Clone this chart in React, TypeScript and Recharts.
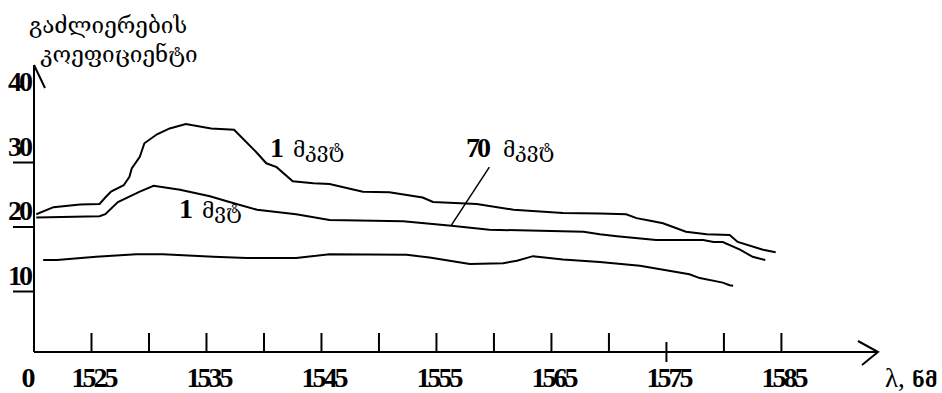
import React from 'react';
import { LineChart, Line, XAxis, YAxis, ReferenceLine } from 'recharts';

// ---- data ----
const wavelengthTicks = [1520, 1525, 1530, 1535, 1540, 1545, 1550, 1555, 1560, 1565, 1570, 1575, 1580, 1585];
const gainTicks = [10, 20, 30, 40];
const originLabel = '0';
const xAxisSymbol = 'λ,';
const xAxisUnit = 'ნმ';
const yTitleLines = ['გაძლიერების', 'კოეფიციენტი'];

// upper curve (1 mW label)
const wlA = [1520.2, 1521.7, 1524.0, 1525.7, 1526.2, 1526.7, 1527.8, 1528.3, 1528.5, 1529.2, 1529.6, 1530.7, 1531.8, 1533.2, 1535.4, 1537.4, 1539.4, 1540.2, 1541.1, 1542.5, 1544.3, 1545.7, 1548.6, 1550.9, 1553.8, 1554.7, 1558.5, 1561.7, 1566.0, 1569.2, 1571.5, 1572.4, 1573.6, 1574.7, 1576.7, 1578.5, 1580.5, 1581.2, 1583.4, 1584.5];
const gainA = [19.5, 20.6, 21.0, 21.1, 22.1, 23.0, 24.0, 25.3, 26.6, 28.4, 30.5, 31.9, 32.8, 33.5, 32.8, 32.6, 29.0, 27.4, 26.8, 24.6, 24.3, 24.2, 23.0, 22.9, 22.1, 21.4, 21.1, 20.2, 19.7, 19.6, 19.5, 18.9, 18.5, 18.1, 16.8, 16.4, 16.3, 15.2, 14.0, 13.6];

// middle curve (70 mW label)
const wlB = [1520.2, 1525.7, 1526.2, 1527.3, 1529.2, 1530.4, 1532.7, 1535.3, 1537.0, 1539.4, 1542.8, 1545.7, 1552.1, 1556.3, 1559.6, 1567.8, 1569.2, 1570.7, 1574.1, 1578.2, 1579.1, 1579.9, 1581.4, 1582.5, 1583.6];
const gainB = [19.0, 19.2, 19.5, 21.4, 23.0, 23.9, 23.3, 22.3, 21.4, 20.2, 19.5, 18.6, 18.4, 17.7, 17.1, 16.8, 16.4, 16.1, 15.5, 15.5, 15.2, 15.2, 14.0, 12.9, 12.4];

// lower curve
const wlC = [1520.8, 1522.0, 1525.4, 1528.9, 1531.2, 1535.6, 1538.5, 1542.8, 1545.7, 1552.4, 1554.4, 1557.9, 1560.8, 1562.0, 1563.4, 1566.0, 1569.2, 1572.7, 1577.0, 1577.9, 1579.9, 1580.5, 1580.8];
const gainC = [12.4, 12.4, 12.9, 13.3, 13.3, 12.9, 12.7, 12.7, 13.3, 13.2, 12.8, 11.8, 11.9, 12.3, 13.0, 12.5, 12.1, 11.5, 10.2, 9.6, 8.9, 8.5, 8.4];

const seriesPower = ['1', '70', '1'];
const seriesUnit = ['მკვტ', 'მკვტ', 'მვტ'];

// leader line for the 70 mW label
const leaderWl = [1559.6, 1556.3];
const leaderGain = [26.8, 17.8];

const toRows = (wl: number[], g: number[]) => wl.map((w, i) => ({ wl: w, gain: g[i] }));
const rowsA = toRows(wlA, gainA);
const rowsB = toRows(wlB, gainB);
const rowsC = toRows(wlC, gainC);

// ---- style ----
const NUM_FONT = "'Liberation Serif', 'Times New Roman', serif";
const GEO_FONT = "'DejaVu Serif', 'DejaVu Sans', serif";
const AXIS_Y = 352;
const NUM_SIZE = 28;
const NUM_SPACING = -3;

const XTick = (props: any) => {
  const { x, payload } = props;
  const v = payload.value as number;
  if (v === 1520) {
    return (
      <text x={x - 7} y={387} textAnchor="middle" fontFamily={NUM_FONT} fontWeight="bold" fontSize={NUM_SIZE} letterSpacing={NUM_SPACING} fill="#000">
        {originLabel}
      </text>
    );
  }
  const tall = v === 1575;
  const showLabel = (v - 1525) % 10 === 0;
  return (
    <g>
      <line x1={x} x2={x} y1={tall ? AXIS_Y - 10 : AXIS_Y - 19} y2={tall ? AXIS_Y + 10 : AXIS_Y} stroke="#000" strokeWidth={2} />
      {showLabel && (
        <text x={x + 2} y={387} textAnchor="middle" fontFamily={NUM_FONT} fontWeight="bold" fontSize={NUM_SIZE} letterSpacing={NUM_SPACING} fill="#000">
          {String(v)}
        </text>
      )}
    </g>
  );
};

const YTick = (props: any) => {
  const { y, payload } = props;
  const v = payload.value as number;
  return (
    <g>
      {v !== 40 && <line x1={13} x2={34} y1={y + 16} y2={y + 16} stroke="#000" strokeWidth={2} />}
      <text x={19} y={y + 9} textAnchor="middle" fontFamily={NUM_FONT} fontWeight="bold" fontSize={NUM_SIZE} letterSpacing={NUM_SPACING} fill="#000">
        {String(v)}
      </text>
    </g>
  );
};

const SeriesLabel = ({ x, y, num, unit, ux }: { x: number; y: number; num: string; unit: string; ux: number }) => (
  <g>
    <text x={x} y={y} fontFamily={NUM_FONT} fontWeight="bold" fontSize={NUM_SIZE} letterSpacing={NUM_SPACING} fill="#000">{num}</text>
    <text x={ux} y={y} fontFamily={GEO_FONT} fontSize={21} fill="#000">{unit}</text>
  </g>
);

export default function App() {
  return (
    <div style={{ position: 'absolute', left: 0, top: 0, width: 942, height: 393, background: '#fff' }}>
      <LineChart width={942} height={393} margin={{ top: 65, right: 64, bottom: 40, left: 33 }}>
        <XAxis
          type="number"
          dataKey="wl"
          domain={[1520, 1593.4]}
          ticks={wavelengthTicks}
          interval={0}
          allowDataOverflow
          height={1}
          tickLine={false}
          axisLine={{ stroke: '#000', strokeWidth: 2 }}
          tick={(p: any) => <XTick {...p} />}
        />
        <YAxis
          type="number"
          dataKey="gain"
          domain={[-1.86, 42.64]}
          ticks={gainTicks}
          interval={0}
          allowDataOverflow
          width={1}
          tickLine={false}
          axisLine={{ stroke: '#000', strokeWidth: 2 }}
          tick={(p: any) => <YTick {...p} />}
        />
        <Line data={rowsA} dataKey="gain" type="linear" stroke="#000" strokeWidth={2} dot={false} isAnimationActive={false} />
        <Line data={rowsB} dataKey="gain" type="linear" stroke="#000" strokeWidth={2} dot={false} isAnimationActive={false} />
        <Line data={rowsC} dataKey="gain" type="linear" stroke="#000" strokeWidth={2} dot={false} isAnimationActive={false} />
        <ReferenceLine
          segment={[{ x: leaderWl[0], y: leaderGain[0] }, { x: leaderWl[1], y: leaderGain[1] }]}
          stroke="#000"
          strokeWidth={1.5}
          ifOverflow="visible"
        />
      </LineChart>
      <svg width={942} height={393} style={{ position: 'absolute', left: 0, top: 0, pointerEvents: 'none' }}>
        <line x1={34} y1={65} x2={45} y2={88} stroke="#000" strokeWidth={2} />
        <polyline points="858,341 878,352 862,365" fill="none" stroke="#000" strokeWidth={2} />
        <text x={108} y={33} textAnchor="middle" fontFamily={GEO_FONT} fontSize={22.5} fill="#000">{yTitleLines[0]}</text>
        <text x={119} y={62} textAnchor="middle" fontFamily={GEO_FONT} fontSize={22.5} fill="#000">{yTitleLines[1]}</text>
        <SeriesLabel x={270} ux={293} y={157} num={seriesPower[0]} unit={seriesUnit[0]} />
        <SeriesLabel x={466} ux={503} y={157} num={seriesPower[1]} unit={seriesUnit[1]} />
        <SeriesLabel x={179} ux={202} y={218} num={seriesPower[2]} unit={seriesUnit[2]} />
        <text x={885} y={387} fontFamily={NUM_FONT} fontSize={27} fill="#000">{xAxisSymbol}</text>
        <text x={912} y={387} fontFamily={GEO_FONT} fontWeight="bold" fontSize={20} fill="#000">{xAxisUnit}</text>
      </svg>
    </div>
  );
}
